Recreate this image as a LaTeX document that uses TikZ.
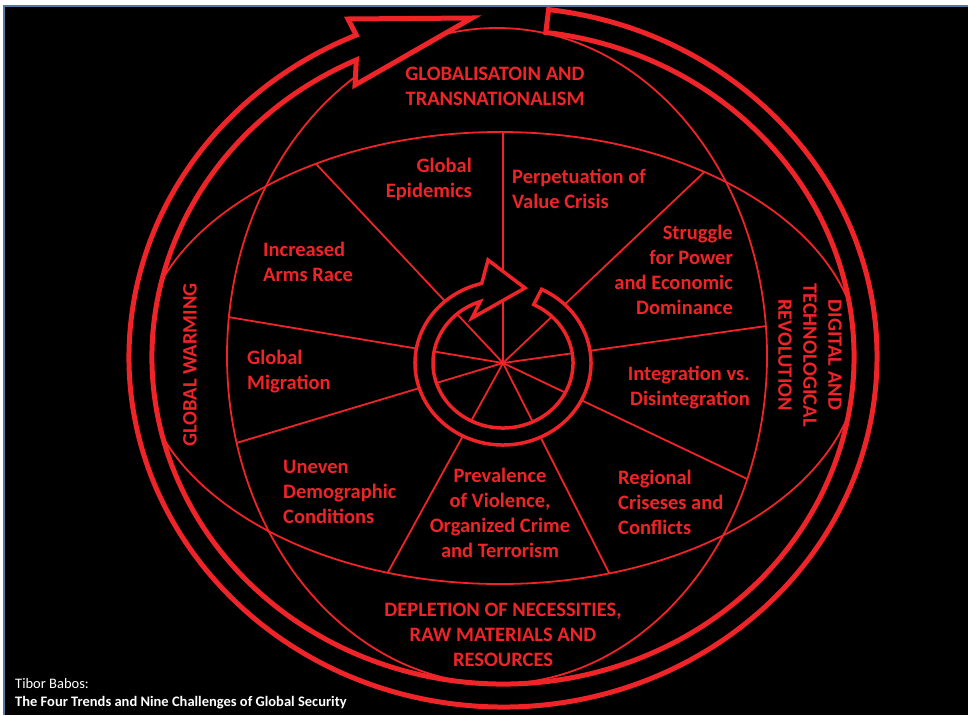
\documentclass[tikz,border=0pt]{standalone}
\usepackage{fontspec}
\setmainfont{Carlito}
\definecolor{slidered}{RGB}{238,36,40}
\definecolor{frameblue}{RGB}{84,120,160}

\begin{document}
\begin{tikzpicture}[x=1pt, y=-1pt,
  thinline/.style={slidered, line width=1.8pt},
  band/.style={draw=slidered, fill=black, line width=5pt, line join=miter},
  smallband/.style={draw=slidered, fill=black, line width=3.5pt, line join=miter},
  lbl/.style={text=slidered, font=\fontsize{20.5}{25}\selectfont\bfseries, inner sep=0pt},
  credit/.style={text=white, font=\fontsize{14.5}{18}\selectfont, inner sep=0pt, anchor=base west}]

\useasboundingbox (0,0) rectangle (968,715);
\fill[white] (0,0) rectangle (968,715);
\fill[black] (4,6) rectangle (968,715);
\draw[frameblue, line width=1.2pt] (4,715) -- (4,6) -- (968,6);

% globe: equator ellipse and meridian
\coordinate (hub) at (503,363);
\coordinate (ring) at (503,357);
\draw[thinline] (500,358) ellipse [x radius=360, y radius=226];
\draw[thinline] (497,356) ellipse [x radius=270, y radius=328];

% nine spokes, cut at the globe lines
\begin{scope}
  \clip (500,358) ellipse [x radius=360, y radius=226];
  \clip (497,356) ellipse [x radius=270, y radius=328];
  \foreach \a in {-90,-43.5,-8,25.4,63.2,118.8,163.3,189.5,226.8}
    \draw[thinline] (hub) -- ++(\a:600);
\end{scope}

% small circular arrow round the hub
\draw[smallband] ([shift={(hub)}]-64:88 and 82)
  arc[start angle=-64, end angle=256, x radius=88, y radius=82]
  -- (488,260) -- (525,288) -- (472,318)
  -- ([shift={(hub)}]251:70 and 65)
  arc[start angle=251, end angle=-64, x radius=70, y radius=65] -- cycle;

% big circular arrow round the globe
\draw[band] ([shift={(ring)}]-83:374 and 350)
  arc[start angle=-83, end angle=246.9, x radius=374, y radius=350]
  -- (348,19) -- (472,18) -- (355,85)
  -- ([shift={(ring)}]245.3:351 and 327)
  arc[start angle=245.3, end angle=-83, x radius=351, y radius=327] -- cycle;

% the four trends
\node[lbl, align=center] (globalisation) at (495,86) {GLOBALISATOIN AND\\TRANSNATIONALISM};
\node[lbl, rotate=90] (warming) at (190,365) {GLOBAL WARMING};
\node[lbl, rotate=-90, align=center] (digital) at (810,355) {DIGITAL AND\\TECHNOLOGICAL\\REVOLUTION};
\node[lbl, align=center] (depletion) at (503,635) {DEPLETION OF NECESSITIES,\\RAW MATERIALS AND\\RESOURCES};

% the nine challenges
\node[lbl, align=right, anchor=east] (epidemics) at (472,179.5) {Global\\Epidemics};
\node[lbl, align=left, anchor=west] (values) at (512,189) {Perpetuation of\\Value Crisis};
\node[lbl, align=right, anchor=east] (power) at (733,269.5) {Struggle\\for Power\\and Economic\\Dominance};
\node[lbl, align=right, anchor=east] (integration) at (750,387.5) {Integration vs.\\Disintegration};
\node[lbl, align=left, anchor=west] (regional) at (618,502) {Regional\\Criseses and\\Conflicts};
\node[lbl, align=center] (violence) at (500,513) {Prevalence\\of Violence,\\Organized Crime\\and Terrorism};
\node[lbl, align=left, anchor=west] (demography) at (283,491.5) {Uneven\\Demographic\\Conditions};
\node[lbl, align=left, anchor=west] (migration) at (247,372) {Global\\Migration};
\node[lbl, align=left, anchor=west] (arms) at (263,262) {Increased\\Arms Race};

% source
\node[credit] (author) at (15,688) {Tibor Babos:};
\node[credit, font=\fontsize{14.5}{18}\selectfont\bfseries] (title) at (15,706) {The Four Trends and Nine Challenges of Global Security};
\end{tikzpicture}
\end{document}
